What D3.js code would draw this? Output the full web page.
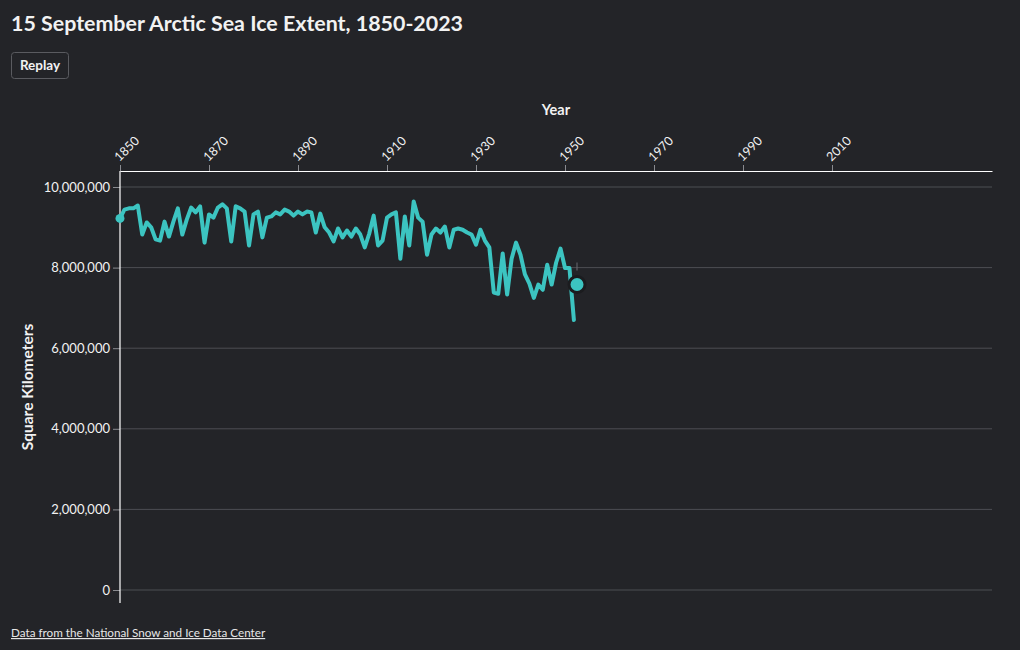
<!DOCTYPE html>
<html>
<head>
<meta charset="utf-8">
<script src="https://cdn.jsdelivr.net/npm/d3@7"></script>
<style>
  html, body { margin: 0; padding: 0; background: #232428; }
  body { width: 1020px; height: 650px; overflow: hidden; font-family: "Lato", "Noto Sans", sans-serif; }
  svg { display: block; }
</style>
</head>
<body>
<svg id="chart" width="1020" height="650"></svg>
<script>
// ---- Data (animation captured part-way, through 1952) ----
const years = [
  1850,1851,1852,1853,1854,1855,1856,1857,1858,1859,
  1860,1861,1862,1863,1864,1865,1866,1867,1868,1869,
  1870,1871,1872,1873,1874,1875,1876,1877,1878,1879,
  1880,1881,1882,1883,1884,1885,1886,1887,1888,1889,
  1890,1891,1892,1893,1894,1895,1896,1897,1898,1899,
  1900,1901,1902,1903,1904,1905,1906,1907,1908,1909,
  1910,1911,1912,1913,1914,1915,1916,1917,1918,1919,
  1920,1921,1922,1923,1924,1925,1926,1927,1928,1929,
  1930,1931,1932,1933,1934,1935,1936,1937,1938,1939,
  1940,1941,1942,1943,1944,1945,1946,1947,1948,1949,
  1950,1951,1952
];
const extentKm2 = [
  9220000,9440000,9470000,9470000,9540000,8820000,9120000,9000000,8700000,8670000,
  9140000,8770000,9140000,9470000,8820000,9190000,9490000,9370000,9520000,8620000,
  9320000,9240000,9490000,9570000,9470000,8650000,9520000,9470000,9390000,8550000,
  9320000,9390000,8750000,9240000,9270000,9370000,9320000,9440000,9390000,9290000,
  9390000,9320000,9390000,9370000,8870000,9340000,9000000,8870000,8650000,8970000,
  8750000,8920000,8770000,8970000,8820000,8500000,8840000,9290000,8550000,8670000,
  9240000,9320000,9370000,8220000,9270000,8550000,9640000,9240000,9140000,8320000,
  8820000,8970000,8870000,9020000,8500000,8940000,8970000,8940000,8870000,8820000,
  8570000,8940000,8670000,8500000,7380000,7350000,8350000,7330000,8220000,8620000,
  8320000,7830000,7600000,7250000,7580000,7450000,8070000,7580000,8120000,8470000,
  7990000,7990000,6700000
];
// Current animated marker (between points while the line draws)
const markerYear = [1952.7];
const markerValue = [7580000];

const xTickYears = [1850,1870,1890,1910,1930,1950,1970,1990,2010];
const yTickValues = [0,2000000,4000000,6000000,8000000,10000000];

const titleText = "15 September Arctic Sea Ice Extent, 1850-2023";
const sourceText = "Data from the National Snow and Ice Data Center";

// ---- Layout ----
const svg = d3.select("#chart");
const mLeft = 120, mRight = 992, mTop = 171, mBottom = 590, axisEnd = 603;
const lineColor = "#3cc4c1";
const textColor = "#f2f2f2";
const gridColor = "#4d4e53";
const font = "Lato, 'Noto Sans', sans-serif";

const x = d3.scaleLinear().domain([1850, 1850 + (mRight - mLeft) / 4.45]).range([mLeft, mRight]);
const y = d3.scaleLinear().domain([0, 10000000]).range([mBottom, 187]);

// Title
svg.append("text")
  .attr("x", 11).attr("y", 31)
  .attr("fill", textColor)
  .attr("font-family", font)
  .attr("font-weight", 700)
  .attr("font-size", 21.4)
  .text(titleText);

// Replay button
const btn = svg.append("g").attr("transform", "translate(11,52)");
btn.append("rect").attr("x", 0.5).attr("y", 0.5).attr("width", 57).attr("height", 26)
  .attr("rx", 3).attr("fill", "#232428").attr("stroke", "#5a5b60");
btn.append("text").attr("x", 29).attr("y", 18).attr("text-anchor", "middle")
  .attr("fill", textColor).attr("font-family", font).attr("font-weight", 700).attr("font-size", 13.5)
  .text("Replay");

// Gridlines
svg.append("g").selectAll("line").data(yTickValues).join("line")
  .attr("x1", mLeft).attr("x2", mRight)
  .attr("y1", d => y(d)).attr("y2", d => y(d))
  .attr("stroke", gridColor).attr("stroke-width", 1);

// X axis (top)
const xAxis = svg.append("g").attr("transform", `translate(0,${mTop})`)
  .call(d3.axisTop(x).tickValues(xTickYears).tickFormat(d3.format("d")).tickSize(6).tickSizeOuter(0));
xAxis.select(".domain").attr("stroke", "#ffffff").attr("stroke-width", 1.2);
xAxis.selectAll(".tick line").attr("stroke", "#8a8b90");
xAxis.selectAll(".tick text")
  .attr("fill", textColor).attr("font-family", font).attr("font-size", 12.5)
  .attr("text-anchor", "start")
  .attr("transform", "translate(-4,-12) rotate(-45)")
  .attr("x", 0).attr("y", 0).attr("dy", "0.35em");

svg.append("text")
  .attr("x", (mLeft + mRight) / 2).attr("y", 115)
  .attr("text-anchor", "middle")
  .attr("fill", textColor).attr("font-family", font).attr("font-weight", 700).attr("font-size", 14.5)
  .text("Year");

// Y axis
const yAxis = svg.append("g").attr("transform", `translate(${mLeft},0)`)
  .call(d3.axisLeft(y).tickValues(yTickValues).tickFormat(d3.format(",")).tickSize(7).tickSizeOuter(0));
yAxis.select(".domain").remove();
yAxis.selectAll(".tick line").attr("stroke", "#8a8b90");
yAxis.selectAll(".tick text")
  .attr("fill", textColor).attr("font-family", font).attr("font-size", 13).attr("x", -10);
svg.append("line")
  .attr("x1", mLeft).attr("x2", mLeft).attr("y1", mTop).attr("y2", axisEnd)
  .attr("stroke", "#ffffff").attr("stroke-width", 1.2);

svg.append("text")
  .attr("transform", `translate(33,${(mTop + axisEnd) / 2}) rotate(-90)`)
  .attr("text-anchor", "middle")
  .attr("fill", textColor).attr("font-family", font).attr("font-weight", 700).attr("font-size", 15.5)
  .text("Square Kilometers");

// Data line
const data = years.map((yr, i) => ({ year: yr, value: extentKm2[i] }));
const line = d3.line().x(d => x(d.year)).y(d => y(d.value));
svg.append("path").datum(data)
  .attr("d", line)
  .attr("fill", "none")
  .attr("stroke", lineColor)
  .attr("stroke-width", 4)
  .attr("stroke-linejoin", "round")
  .attr("stroke-linecap", "round");

// Start dot
svg.append("circle")
  .attr("cx", x(data[0].year)).attr("cy", y(data[0].value)).attr("r", 4.5)
  .attr("fill", lineColor);

// Animated marker
const marker = markerYear.map((yr, i) => ({ year: yr, value: markerValue[i] }));
svg.append("g").selectAll("line").data(marker).join("line")
  .attr("x1", d => x(d.year)).attr("x2", d => x(d.year))
  .attr("y1", d => y(d.value) - 22).attr("y2", d => y(d.value) - 14)
  .attr("stroke", "#6a6b70").attr("stroke-width", 1);
svg.append("g").selectAll("circle").data(marker).join("circle")
  .attr("cx", d => x(d.year)).attr("cy", d => y(d.value)).attr("r", 8)
  .attr("fill", lineColor).attr("stroke", "#1b1c1f").attr("stroke-width", 3);

// Source link
svg.append("text")
  .attr("x", 11).attr("y", 637)
  .attr("fill", "#e6e6e6").attr("font-family", font).attr("font-size", 11.7)
  .attr("text-decoration", "underline")
  .text(sourceText);
</script>
</body>
</html>
